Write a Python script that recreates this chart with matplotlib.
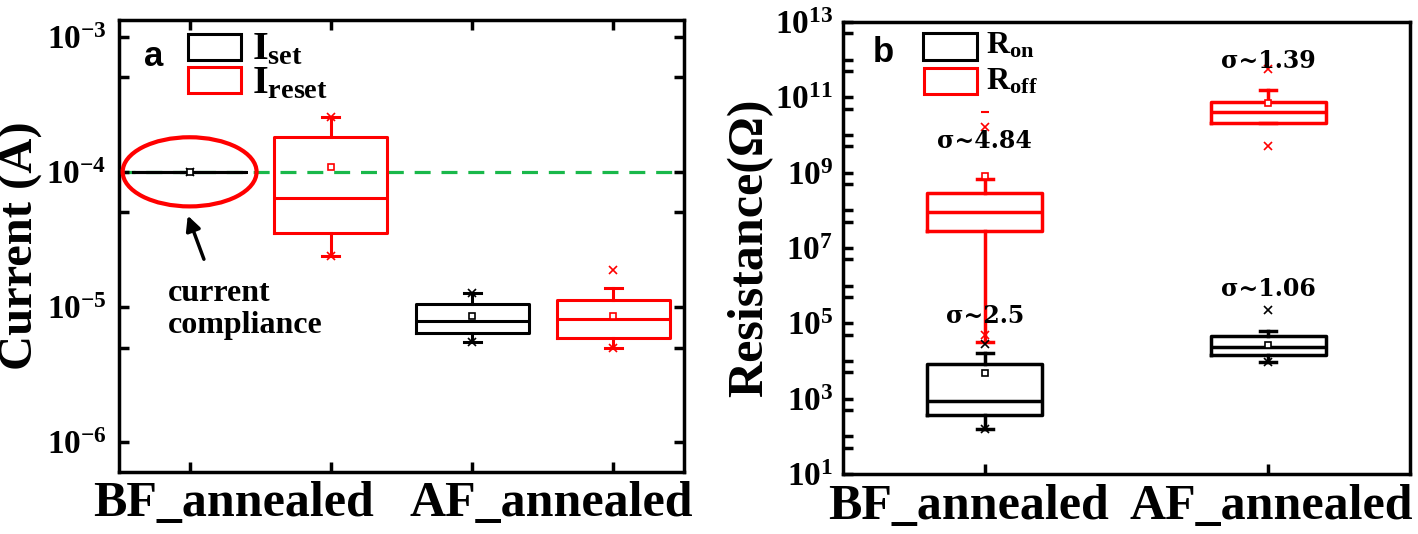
import matplotlib
matplotlib.use('Agg')
import matplotlib.pyplot as plt
from matplotlib.patches import Ellipse, Rectangle
from matplotlib.ticker import LogLocator, FuncFormatter, NullFormatter
import numpy as np

plt.rcParams['font.family'] = ['Liberation Serif', 'DejaVu Serif']
plt.rcParams['font.weight'] = 'bold'
plt.rcParams['mathtext.fontset'] = 'custom'
plt.rcParams['mathtext.rm'] = 'Liberation Serif:bold'
plt.rcParams['mathtext.bf'] = 'Liberation Serif:bold'
plt.rcParams['mathtext.it'] = 'Liberation Serif:bold:italic'

W, H = 1418, 534

# ---- panel a: set / reset current (BF, AF) ----
groups = ['BF_annealed', 'AF_annealed']
compliance = 1e-4

set_whislo = [1.0e-4, 5.5e-6]
set_q1 = [1.0e-4, 6.4e-6]
set_med = [1.0e-4, 7.9e-6]
set_q3 = [1.0e-4, 1.05e-5]
set_whishi = [1.0e-4, 1.26e-5]
set_mean = [1.0e-4, 8.5e-6]
set_fliers = [[1.0e-4], [5.5e-6, 1.26e-5]]

reset_whislo = [2.4e-5, 5.0e-6]
reset_q1 = [3.5e-5, 5.9e-6]
reset_med = [6.4e-5, 8.1e-6]
reset_q3 = [1.8e-4, 1.12e-5]
reset_whishi = [2.55e-4, 1.37e-5]
reset_mean = [1.09e-4, 8.5e-6]
reset_fliers = [[2.4e-5, 2.55e-4], [5.0e-6, 1.87e-5]]

# ---- panel b: Ron / Roff ----
ron_whislo = [1.6e2, 9.5e3]
ron_q1 = [3.6e2, 1.45e4]
ron_med = [8.9e2, 2.4e4]
ron_q3 = [8.5e3, 4.7e4]
ron_whishi = [1.6e4, 6.2e4]
ron_mean = [4.7e3, 2.6e4]
ron_fliers = [[1.6e2, 2.8e4], [9.5e3, 2.3e5]]

roff_whislo = [3.2e4, 2.1e10]
roff_q1 = [2.8e7, 2.1e10]
roff_med = [9.0e7, 4.0e10]
roff_q3 = [2.9e8, 7.4e10]
roff_whishi = [6.6e8, 1.55e11]
roff_mean = [8.1e8, 7.1e10]
roff_fliers = [[1.65e10, 4.8e4], [5.6e11, 5.0e9]]
roff_max = [4.2e10]

sigma_labels = ['σ~2.5', 'σ~1.06', 'σ~4.84', 'σ~1.39']
sigma_x = [1, 2, 1, 2]
sigma_y = [1.6e5, 8.0e5, 7.0e9, 9.0e11]


def make_stats(lo, q1, med, q3, hi, mean, fliers):
    return [dict(whislo=a, q1=b, med=c, q3=d, whishi=e, mean=f, fliers=g)
            for a, b, c, d, e, f, g in zip(lo, q1, med, q3, hi, mean, fliers)]


def draw_boxes(ax, stats, pos, color, width, capw, lw=2.2):
    ax.bxp(stats, positions=pos, widths=width, showmeans=True, manage_ticks=False,
           capwidths=capw,
           boxprops=dict(color=color, lw=lw),
           medianprops=dict(color=color, lw=lw),
           whiskerprops=dict(color=color, lw=lw),
           capprops=dict(color=color, lw=lw),
           flierprops=dict(marker='x', markeredgecolor=color, markersize=6,
                           markeredgewidth=1.2, linestyle='none'),
           meanprops=dict(marker='s', markerfacecolor='white', markeredgecolor=color,
                          markersize=5, markeredgewidth=1.2))


def pow_fmt(v, p):
    if v <= 0:
        return ''
    return r'$\mathbf{10^{%d}}$' % int(round(np.log10(v)))


def odd_fmt(v, p):
    e = int(round(np.log10(v)))
    return r'$\mathbf{10^{%d}}$' % e if e % 2 == 1 else ''


def px(x, y):
    return x / W, 1 - y / H


fig = plt.figure(figsize=(W / 100, H / 100), dpi=100)
ax1 = fig.add_axes([119 / W, 1 - 472 / H, 565 / W, 452 / H])
ax2 = fig.add_axes([843 / W, 1 - 474 / H, 567 / W, 452 / H])

for ax in (ax1, ax2):
    for s in ax.spines.values():
        s.set_linewidth(2.5)

# ---------- panel a ----------
ax1.set_yscale('log')
ax1.set_ylim(6.0e-7, 1.33e-3)
ax1.set_xlim(0.5, 4.5)

ax1.axhline(compliance, color='#19b84a', lw=2.3, dashes=(5.0, 3.4), zorder=1)

draw_boxes(ax1, make_stats(set_whislo, set_q1, set_med, set_q3, set_whishi, set_mean, set_fliers),
           [1, 3], 'black', 0.8, 0.12)
draw_boxes(ax1, make_stats(reset_whislo, reset_q1, reset_med, reset_q3, reset_whishi, reset_mean,
                           reset_fliers), [2, 4], 'red', 0.8, 0.12)

ax1.yaxis.set_major_locator(LogLocator(base=10, numticks=10))
ax1.yaxis.set_minor_locator(LogLocator(base=10, subs=[5], numticks=10))
ax1.yaxis.set_major_formatter(FuncFormatter(pow_fmt))
ax1.yaxis.set_minor_formatter(NullFormatter())
ax1.set_xticks([1, 2, 3, 4])
ax1.set_xticklabels([])
ax1.tick_params(axis='y', which='both', direction='in', left=True, right=True,
                length=7, width=2.5, labelsize=24, pad=9)
ax1.tick_params(axis='x', which='both', direction='in', top=True, bottom=True,
                length=7, width=2.5)

for x, g in zip([1.31, 3.56], groups):
    ax1.text(x, -0.097, g, transform=ax1.get_xaxis_transform(), ha='center',
             va='baseline', fontsize=36, fontweight='bold')
ax1.set_ylabel('Current (A)', fontsize=35, fontweight='bold')
ax1.yaxis.set_label_coords(-0.134, 0.5)

# ellipse round the compliance-limited Iset box
fig.canvas.draw()
cx, cy = ax1.transAxes.inverted().transform(ax1.transData.transform((1, compliance)))
ax1.add_patch(Ellipse((cx, cy), 0.237, 0.153, transform=ax1.transAxes,
                      fill=False, ec='red', lw=3, zorder=5))
ax1.annotate('', xy=(0.120, 0.573), xytext=(0.152, 0.465), xycoords='axes fraction',
             arrowprops=dict(arrowstyle='-|>', color='black', lw=2.5, mutation_scale=22))
ax1.text(0.087, 0.428, 'current\ncompliance', transform=ax1.transAxes, ha='left',
         va='top', fontsize=23, fontweight='bold', linespacing=1.15)

fig.text(*px(154, 56), 'a', family='Liberation Sans', fontweight='bold', fontsize=25,
         ha='center', va='center')
fig.add_artist(Rectangle(px(188, 60), 53 / W, 26 / H, transform=fig.transFigure,
                         fill=False, ec='black', lw=2.2))
fig.add_artist(Rectangle(px(188, 93), 53 / W, 26 / H, transform=fig.transFigure,
                         fill=False, ec='red', lw=2.2))
fig.text(*px(252, 59), r'$\mathbf{I}_{\mathbf{set}}$', fontsize=29, va='baseline')
fig.text(*px(252, 93), r'$\mathbf{I}_{\mathbf{reset}}$', fontsize=29, va='baseline')

# ---------- panel b ----------
ax2.set_yscale('log')
ax2.set_ylim(10, 1e13)
ax2.set_xlim(0.5, 2.5)

draw_boxes(ax2, make_stats(roff_whislo, roff_q1, roff_med, roff_q3, roff_whishi, roff_mean,
                           roff_fliers), [1, 2], 'red', 0.405, 0.056, lw=2.5)
draw_boxes(ax2, make_stats(ron_whislo, ron_q1, ron_med, ron_q3, ron_whishi, ron_mean,
                           ron_fliers), [1, 2], 'black', 0.405, 0.056, lw=2.5)
ax2.plot([1] * len(roff_max), roff_max, ls='none', marker='_', color='red', ms=6, mew=1.5)

for lab, x, y in zip(sigma_labels, sigma_x, sigma_y):
    ax2.text(x, y, lab, ha='center', va='center', fontsize=17, fontweight='bold',
             family='DejaVu Serif', zorder=6)

ax2.yaxis.set_major_locator(LogLocator(base=10, numticks=20))
ax2.yaxis.set_minor_locator(LogLocator(base=10, subs=[5], numticks=20))
ax2.yaxis.set_major_formatter(FuncFormatter(odd_fmt))
ax2.yaxis.set_minor_formatter(NullFormatter())
ax2.set_xticks([1, 2])
ax2.set_xticklabels([])
ax2.tick_params(axis='y', which='both', direction='in', left=True, right=False,
                length=7, width=2.5, labelsize=24, pad=7)
ax2.tick_params(axis='x', which='both', direction='in', top=False, bottom=True,
                length=7, width=2.5)

for x, g in zip([0.944, 2.01], groups):
    ax2.text(x, -0.0996, g, transform=ax2.get_xaxis_transform(), ha='center',
             va='baseline', fontsize=36, fontweight='bold')
ax2.set_ylabel('Resistance(Ω)', fontsize=36, fontweight='bold')
ax2.yaxis.set_label_coords(-0.122, 0.5)

fig.text(*px(883, 53), 'b', family='Liberation Sans', fontweight='bold', fontsize=25,
         ha='center', va='center')
fig.add_artist(Rectangle(px(923, 60), 54 / W, 27 / H, transform=fig.transFigure,
                         fill=False, ec='black', lw=2.2))
fig.add_artist(Rectangle(px(924, 94), 53 / W, 26 / H, transform=fig.transFigure,
                         fill=False, ec='red', lw=2.2))
fig.text(*px(986, 54), r'$\mathbf{R}_{\mathbf{on}}$', fontsize=23, va='baseline')
fig.text(*px(986, 90), r'$\mathbf{R}_{\mathbf{off}}$', fontsize=23, va='baseline')

fig.savefig('out.png', dpi=100)
